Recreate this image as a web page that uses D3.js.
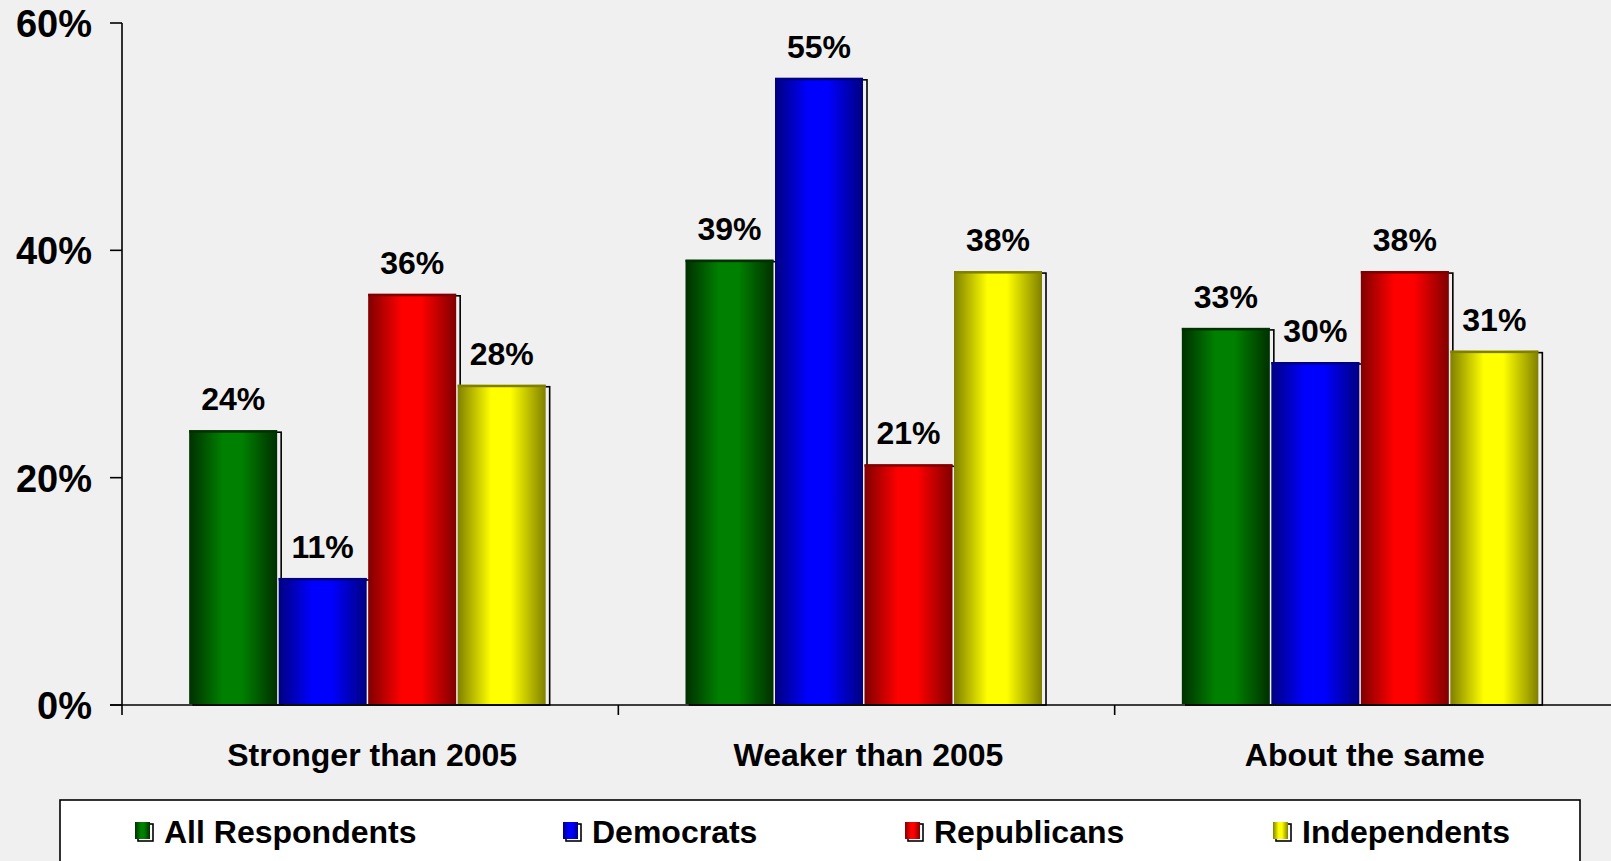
<!DOCTYPE html>
<html>
<head>
<meta charset="utf-8">
<script src="https://cdn.jsdelivr.net/npm/d3@7"></script>
<style>
  html, body { margin: 0; padding: 0; background: #f0f0f0; }
  svg { display: block; }
  text { font-family: "Liberation Sans", Arial, sans-serif; font-weight: bold; fill: #000; }
</style>
</head>
<body>
<svg id="chart" width="1611" height="861"></svg>
<script>
// ---- data ----
const categories = ["Stronger than 2005", "Weaker than 2005", "About the same"];
const seriesNames = ["All Respondents", "Democrats", "Republicans", "Independents"];
const allRespondents = [24, 39, 33];
const democrats = [11, 55, 30];
const republicans = [36, 21, 38];
const independents = [28, 38, 31];
const yTicks = [0, 20, 40, 60];
const yTickLabels = ["0%", "20%", "40%", "60%"];

const seriesValues = [allRespondents, democrats, republicans, independents];
const seriesColors = [
  { dark: "#003000", bright: "#008000" },
  { dark: "#000080", bright: "#0000ff" },
  { dark: "#800000", bright: "#ff0000" },
  { dark: "#808000", bright: "#ffff00" }
];

const svg = d3.select("#chart");
const W = 1611, H = 861;
svg.append("rect").attr("width", W).attr("height", H).attr("fill", "#f0f0f0");

const defs = svg.append("defs");
seriesColors.forEach((c, i) => {
  const g = defs.append("linearGradient").attr("id", "grad" + i)
    .attr("x1", "0%").attr("x2", "100%").attr("y1", "0%").attr("y2", "0%");
  g.append("stop").attr("offset", "0%").attr("stop-color", c.dark);
  g.append("stop").attr("offset", "38%").attr("stop-color", c.bright);
  g.append("stop").attr("offset", "60%").attr("stop-color", c.bright);
  g.append("stop").attr("offset", "100%").attr("stop-color", c.dark);
});

// ---- scales ----
const plotLeft = 122, plotRight = 1611, baseY = 705, topY = 23;
const y = d3.scaleLinear().domain([0, 60]).range([baseY, topY]);
const x0 = d3.scaleBand().domain(categories).range([plotLeft, plotRight]).padding(0);
const groupW = 358;
const groupOff = (x0.bandwidth() - groupW) / 2 - 2;
const x1 = d3.scaleBand().domain(seriesNames).range([0, groupW]).padding(0);
const barW = x1.bandwidth() - 1.5;

// ---- bars ----
const rows = [];
categories.forEach((cat, ci) => {
  seriesNames.forEach((s, si) => {
    rows.push({ cat, s, si, v: seriesValues[si][ci] });
  });
});

const barG = svg.append("g");
rows.forEach(d => {
  const bx = x0(d.cat) + groupOff + x1(d.s);
  const by = y(d.v);
  // shadow outline
  barG.append("rect")
    .attr("x", bx + 4).attr("y", by)
    .attr("width", barW).attr("height", baseY - by)
    .attr("fill", "none").attr("stroke", "#000").attr("stroke-width", 1.6);
  // gradient face
  barG.append("rect")
    .attr("x", bx).attr("y", by - 2)
    .attr("width", barW).attr("height", baseY - by + 1)
    .attr("fill", `url(#grad${d.si})`);
  // darker top edge
  barG.append("rect")
    .attr("x", bx).attr("y", by - 2)
    .attr("width", barW).attr("height", 2.5)
    .attr("fill", seriesColors[d.si].dark);
  // value label
  barG.append("text")
    .attr("x", bx + barW / 2).attr("y", by - 22)
    .attr("text-anchor", "middle")
    .attr("font-size", 32)
    .text(d.v + "%");
});

// ---- axes ----
const axG = svg.append("g").attr("stroke", "#000").attr("stroke-width", 1.6);
axG.append("line").attr("x1", plotLeft).attr("x2", plotLeft).attr("y1", topY).attr("y2", baseY + 10);
axG.append("line").attr("x1", plotLeft - 12).attr("x2", plotRight).attr("y1", baseY).attr("y2", baseY);
yTicks.forEach(t => {
  axG.append("line").attr("x1", plotLeft - 12).attr("x2", plotLeft).attr("y1", y(t)).attr("y2", y(t));
});
categories.slice(1).forEach(c => {
  axG.append("line").attr("x1", x0(c)).attr("x2", x0(c)).attr("y1", baseY).attr("y2", baseY + 10);
});

// y tick labels
yTicks.forEach((t, i) => {
  svg.append("text")
    .attr("x", 92).attr("y", y(t) + 14)
    .attr("text-anchor", "end")
    .attr("font-size", 38)
    .text(yTickLabels[i]);
});

// category labels
categories.forEach(c => {
  svg.append("text")
    .attr("x", x0(c) + x0.bandwidth() / 2 + 2).attr("y", 766)
    .attr("text-anchor", "middle")
    .attr("font-size", 32)
    .text(c);
});

// ---- legend ----
svg.append("rect")
  .attr("x", 60).attr("y", 800)
  .attr("width", 1520).attr("height", 80)
  .attr("fill", "#fff").attr("stroke", "#000").attr("stroke-width", 1.6);

const legendX = [135, 563, 905, 1273];
seriesNames.forEach((s, i) => {
  const lx = legendX[i];
  svg.append("rect")
    .attr("x", lx + 3).attr("y", 824)
    .attr("width", 15).attr("height", 17)
    .attr("fill", "#fff").attr("stroke", "#000").attr("stroke-width", 1.6);
  svg.append("rect")
    .attr("x", lx).attr("y", 822)
    .attr("width", 15).attr("height", 17)
    .attr("fill", `url(#grad${i})`);
  svg.append("text")
    .attr("x", lx + 29).attr("y", 843)
    .attr("font-size", 32)
    .text(s);
});
</script>
</body>
</html>
